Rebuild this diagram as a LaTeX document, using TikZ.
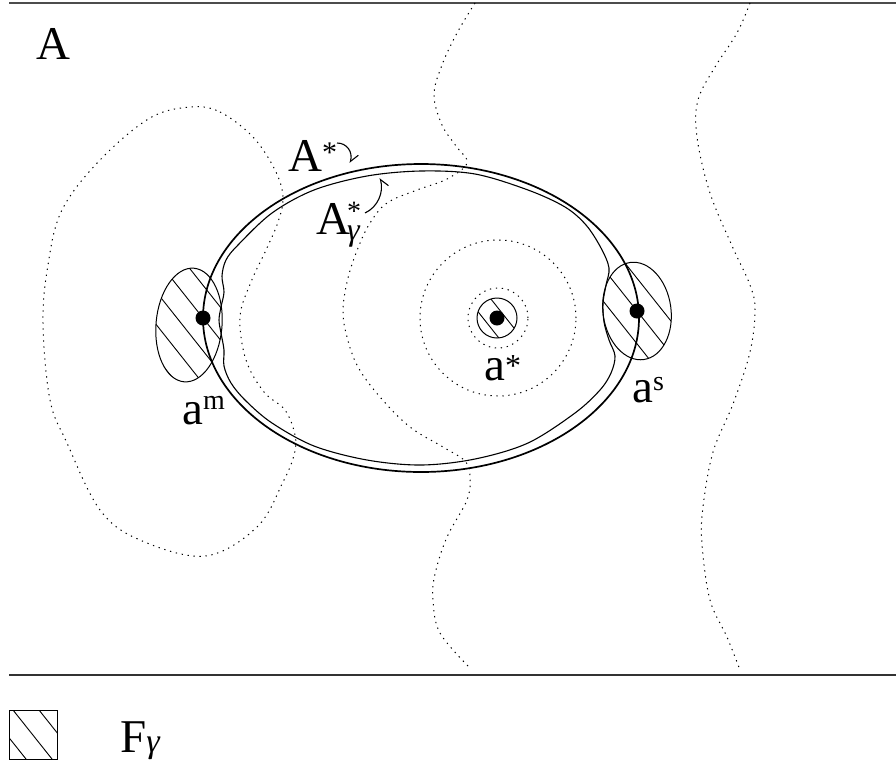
\documentclass[tikz,border=0pt]{standalone}
\usepackage{fontspec}
\setmainfont{Liberation Serif}
\newfontfamily\lblfont{Liberation Serif}
\usetikzlibrary{arrows.meta}
\begin{document}
\begin{tikzpicture}[x=1pt,y=-1pt,
  outerln/.style={line width=1.7pt},
  innerln/.style={line width=1.1pt},
  blobln/.style={line width=1pt},
  hatchln/.style={line width=0.9pt},
  dotln/.style={line width=1pt, dash pattern=on 1.3pt off 4.7pt},
  lbl/.style={inner sep=0pt, anchor=base west, font=\lblfont\fontsize{47}{50}\selectfont},
  ptdot/.style={circle, fill=black, inner sep=0pt, minimum size=15pt},
  frameln/.style={line width=1.4pt, black!70},
  ptr/.style={line width=1.1pt}
]
\useasboundingbox (0,0) rectangle (896,764);

% frame lines
\coordinate (tl) at (9,3);
\coordinate (tr) at (896,3);
\coordinate (bl) at (9,675);
\coordinate (br) at (896,675);
\draw[frameln] (tl) -- (tr);
\draw[frameln, black!80] (bl) -- (br);

% dotted level curves
\draw[dotln] plot[smooth cycle, tension=0.6] coordinates {
 (191,107) (220,112) (253,137) (275,170) (283,197) (278,222) (266,250)
 (251,282) (240,317) (246,360) (264,392) (285,410) (295,435) (294,455)
 (283,482) (257,527) (205,556) (140,540) (100,510) (67,443) (50,400)
 (43,323) (48,265) (62,210) (100,160) (150,118)};
\draw[dotln] plot[smooth, tension=0.6] coordinates {
 (475,3) (457,33) (442,65) (434,95) (442,125) (456,146) (467,163)
 (447,179) (417,190) (387,203) (370,223) (358,248) (348,278) (343,310)
 (347,337) (358,367) (380,397) (410,427) (443,447) (465,461) (470,476)
 (467,500) (447,537) (435,574) (433,600) (440,633) (470,668)};
\draw[dotln] plot[smooth, tension=0.6] coordinates {
 (750,3) (737,33) (715,67) (698,100) (697,137) (710,193) (733,248)
 (750,285) (755,310) (750,352) (733,404) (713,452) (703,507) (702,544)
 (710,600) (727,637) (740,670)};
\draw[dotln] (498,318) circle [radius=78pt];
\draw[dotln] (498,318) circle [radius=30pt];

% outer curve A*
\draw[outerln] (421,318) ellipse [x radius=218pt, y radius=154pt];
% inner curve A*_gamma
\draw[innerln] plot[smooth cycle, tension=0.55] coordinates {
 (421,171) (475,174) (528,190) (565,207) (586,225) (601,248) (609,268)
 (606,285) (603,303) (604,322) (609,340) (615,356) (611,373) (600,390)
 (575,413) (528,443) (475,459) (421,465) (367,460) (314,446) (272,423)
 (246,401) (231,383) (224,366) (224,350) (221,333) (219,320) (221,307)
 (224,292) (222,276) (226,260) (238,245) (272,213) (314,190) (367,176)};

% hatched region at a^m
\begin{scope}
 \clip[rotate around={-5:(189,325)}] (189,325) ellipse [x radius=33pt, y radius=57pt];
 \foreach \k in {-4,...,3}
   \draw[hatchln] (203+\k*26-60,318-75.6) -- ++(120,151.2);
\end{scope}
\draw[blobln, rotate around={-5:(189,325)}] (189,325) ellipse [x radius=33pt, y radius=57pt];

% hatched region at a^s
\begin{scope}
 \clip[rotate around={8:(637,311)}] (637,311) ellipse [x radius=34pt, y radius=49pt];
 \foreach \k in {-3,...,3}
   \draw[hatchln] (637+\k*26-60,311-75.6) -- ++(120,151.2);
\end{scope}
\draw[blobln, rotate around={8:(637,311)}] (637,311) ellipse [x radius=34pt, y radius=49pt];

% hatched disc at a*
\begin{scope}
 \clip (497,318) circle [radius=20pt];
 \foreach \d in {-14,9}
   \draw[hatchln] (497+\d-30,318-37.8) -- ++(60,75.6);
\end{scope}
\draw[blobln] (497,318) circle [radius=20pt];

% points
\node[ptdot] (am) at (203,318) {};
\node[ptdot] (as) at (637,311) {};
\node[ptdot] (ast) at (497,318) {};

% labels
\node[lbl] (labA) at (36,59) {A};
\node[lbl] (labAs) at (288,171) {A\raisebox{8.5pt}{\fontsize{30}{30}\selectfont *}};
\node[lbl] (labAg) at (316,234) {A\kern-3pt\rlap{\raisebox{14pt}{\fontsize{28}{28}\selectfont *}}\raisebox{-6pt}{\fontsize{32}{32}\selectfont\itshape γ}};
\node[lbl] (labastar) at (484,380) {a\raisebox{4pt}{\fontsize{32}{32}\selectfont *}};
\node[lbl] (labam) at (182,424) {a\raisebox{15pt}{\fontsize{28}{28}\selectfont m}};
\node[lbl] (labas) at (632,402) {a\raisebox{12pt}{\fontsize{28}{28}\selectfont s}};

% pointer arrows
\coordinate (pAs0) at (337,143);
\coordinate (pAs1) at (350,163);
\coordinate (pAg0) at (365,213);
\coordinate (pAg1) at (380,178);
\draw[ptr, -{Straight Barb[harpoon, length=8pt, width=12pt]}] (pAs0) .. controls (347,143) and (353,152) .. (pAs1);
\draw[ptr, -{Straight Barb[harpoon, swap, length=8pt, width=12pt]}] (pAg0) .. controls (378,207) and (384,192) .. (pAg1);

% legend
\begin{scope}
 \clip (9,710) rectangle (57,759);
 \foreach \k in {-1,0,1}
   \draw[hatchln] (13+\k*26,710) -- ++(78,98);
\end{scope}
\node[draw, blobln, minimum width=48pt, minimum height=49pt, inner sep=0pt, anchor=north west] (legbox) at (9,710) {};
\node[lbl] (labF) at (120,752) {F{\fontsize{34}{34}\selectfont\itshape γ}};
\end{tikzpicture}
\end{document}
